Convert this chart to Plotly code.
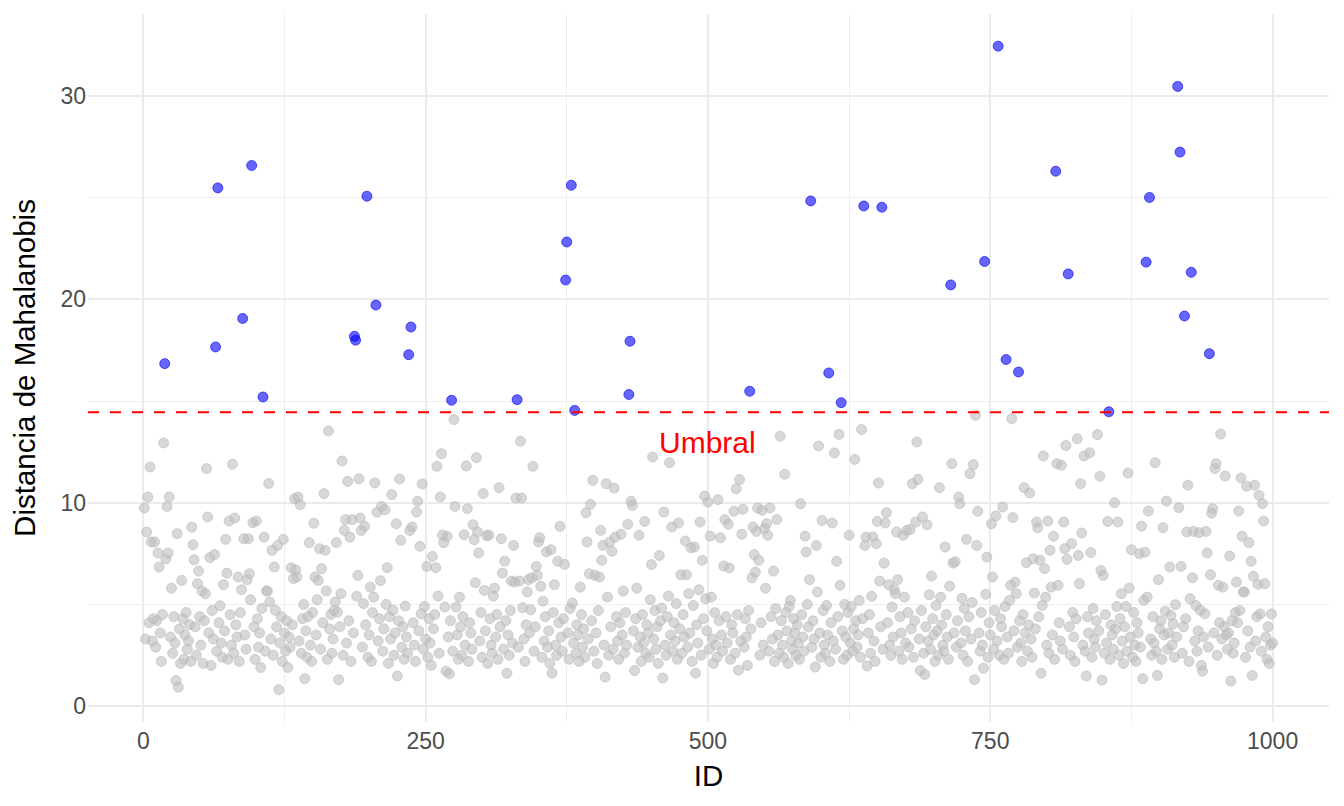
import plotly.graph_objects as go

# ---- data -------------------------------------------------------------
ids = list(range(1, 1001))

distances = [
    9.74, 3.3, 8.56, 10.28, 4.1, 11.76, 8.07, 3.2, 4.3, 8.07,
    2.9, 4.2, 7.53, 6.84, 3.6, 2.2, 4.5, 12.94, 16.84, 7.23,
    9.82, 7.53, 10.28, 3.4, 5.8, 2.6, 4.4, 3.1, 1.26, 8.48,
    0.93, 3.8, 2.1, 6.18, 4.3, 2.3, 3.5, 4.6, 2.8, 3.2,
    4.0, 2.2, 8.80, 7.94, 7.2, 3.9, 2.5, 6.02, 6.64, 4.4,
    3.0, 5.66, 2.1, 4.2, 5.53, 11.68, 9.30, 3.6, 7.3, 2.0,
    4.7, 3.3, 7.45, 17.66, 2.7, 25.48, 4.1, 4.94, 3.1, 2.4,
    5.97, 3.7, 8.2, 6.54, 2.3, 9.10, 4.5, 3.0, 11.89, 2.6,
    9.25, 4.0, 3.4, 6.35, 2.2, 4.6, 5.72, 19.06, 8.23, 3.5,
    2.8, 6.22, 8.23, 6.51, 5.23, 26.58, 9.02, 3.9, 2.3, 9.1,
    4.3, 2.9, 3.6, 1.9, 4.8, 15.20, 8.31, 2.7, 5.66, 5.66,
    10.95, 5.12, 3.3, 7.66, 2.5, 6.84, 4.71, 3.9, 7.9, 0.81,
    3.1, 4.4, 2.2, 8.2, 3.6, 2.7, 4.2, 1.9, 3.4, 2.9,
    6.8, 4.0, 6.27, 10.2, 6.7, 6.35, 10.28, 3.2, 9.9, 2.6,
    4.3, 5.0, 1.35, 3.7, 2.4, 4.41, 8.04, 3.0, 2.2, 4.6,
    8.99, 6.35, 3.5, 5.23, 6.18, 7.74, 2.8, 6.76, 4.1, 10.45,
    7.66, 5.66, 2.3, 13.53, 3.8, 4.51, 2.6, 3.3, 4.7, 5.12,
    8.04, 4.62, 1.3, 3.9, 5.53, 12.05, 2.5, 8.64, 9.17, 3.1,
    11.05, 4.2, 8.31, 2.2, 9.17, 3.6, 18.18, 17.99, 5.4, 6.43,
    11.18, 9.25, 8.64, 2.9, 5.04, 8.84, 4.0, 25.07, 2.4, 3.5,
    5.85, 2.2, 4.6, 5.36, 10.97, 19.72, 9.54, 3.2, 4.3, 6.17,
    9.82, 2.7, 3.8, 9.66, 5.0, 6.81, 2.1, 4.4, 3.3, 10.40,
    4.71, 2.5, 3.6, 8.97, 1.48, 4.2, 11.17, 8.15, 2.9, 3.9,
    2.3, 4.92, 3.4, 2.6, 17.28, 8.64, 18.64, 8.81, 4.1, 3.0,
    2.2, 9.54, 10.07, 3.7, 7.86, 4.54, 10.92, 2.8, 4.9, 3.3,
    6.87, 2.4, 4.3, 3.1, 2.0, 7.36, 3.8, 4.5, 6.81, 11.79,
    5.41, 2.6, 10.28, 12.41, 8.41, 8.04, 4.87, 1.72, 8.35, 3.4,
    1.59, 4.2, 15.04, 2.7, 14.09, 9.82, 4.87, 3.5, 2.3, 5.36,
    3.9, 2.5, 4.4, 8.43, 3.0, 11.81, 9.71, 2.2, 4.1, 3.6,
    2.8, 8.92, 8.18, 6.07, 12.22, 8.56, 7.53, 3.2, 4.6, 2.4,
    10.45, 5.69, 3.7, 8.38, 2.1, 8.41, 4.3, 3.0, 2.6, 5.41,
    5.8, 3.4, 4.5, 2.3, 10.74, 3.9, 8.23, 6.54, 2.8, 7.13,
    4.2, 1.62, 3.5, 2.5, 4.7, 6.15, 3.1, 7.9, 6.1, 10.23,
    15.07, 2.9, 6.15, 13.02, 10.23, 4.84, 3.3, 2.2, 4.0, 5.61,
    6.22, 3.6, 4.74, 6.31, 11.79, 2.7, 3.9, 6.87, 6.43, 8.07,
    8.28, 5.89, 2.4, 5.16, 3.2, 4.4, 7.58, 2.9, 3.7, 2.1,
    7.69, 1.62, 4.6, 5.97, 3.0, 2.5, 7.12, 4.1, 8.84, 3.4,
    2.7, 4.3, 6.97, 20.95, 22.82, 3.6, 2.3, 4.8, 25.61, 5.07,
    3.1, 14.54, 2.6, 4.0, 3.5, 2.2, 5.85, 4.5, 2.9, 3.8,
    2.4, 9.51, 8.07, 3.3, 6.51, 9.92, 4.2, 11.1, 2.7, 6.43,
    3.6, 2.1, 4.7, 6.35, 8.64, 7.17, 7.9, 3.0, 1.43, 10.94,
    5.36, 2.5, 8.07, 3.9, 7.61, 2.8, 10.72, 8.31, 4.4, 3.2,
    2.3, 4.1, 8.45, 3.5, 5.66, 2.6, 4.6, 3.0, 8.94, 15.32,
    17.94, 10.07, 9.87, 3.7, 1.75, 4.3, 5.8, 2.9, 8.4, 3.4,
    2.2, 4.5, 3.1, 9.08, 2.6, 4.0, 3.6, 2.4, 5.23, 6.96,
    12.25, 3.3, 4.7, 2.8, 3.9, 2.1, 7.41, 4.2, 4.82, 1.38,
    9.54, 3.0, 2.5, 4.4, 5.41, 11.97, 3.5, 8.81, 2.7, 4.1,
    3.2, 5.04, 2.3, 9.0, 3.8, 6.46, 2.6, 4.5, 3.4, 8.12,
    6.46, 2.9, 5.53, 3.6, 7.79, 2.2, 4.95, 7.82, 1.62, 4.0,
    3.1, 5.72, 9.05, 2.5, 7.17, 4.3, 10.33, 5.28, 3.7, 10.03,
    2.8, 8.36, 5.36, 3.3, 2.1, 4.6, 3.0, 2.4, 10.15, 4.2,
    8.28, 3.5, 2.7, 6.89, 9.17, 4.4, 3.1, 8.94, 6.79, 2.3,
    4.0, 3.6, 9.58, 2.6, 10.69, 4.5, 1.77, 11.14, 3.2, 8.45,
    9.68, 2.9, 4.3, 3.4, 2.0, 4.7, 15.48, 3.8, 6.31, 8.81,
    7.45, 6.59, 8.59, 9.74, 7.17, 2.5, 4.1, 9.63, 3.0, 8.73,
    5.8, 8.97, 8.4, 2.7, 9.74, 4.4, 3.3, 6.64, 2.2, 4.8,
    9.18, 3.5, 2.6, 13.27, 4.2, 3.0, 2.4, 11.4, 4.6, 3.7,
    2.1, 4.9, 5.2, 3.2, 2.8, 4.3, 3.6, 2.5, 4.0, 3.1,
    2.3, 9.95, 4.5, 3.4, 2.7, 8.36, 7.58, 5.0, 3.9, 6.22,
    24.84, 2.9, 4.2, 3.3, 1.92, 7.9, 5.61, 12.79, 3.6, 2.4,
    9.13, 4.7, 3.0, 2.6, 4.95, 3.5, 16.38, 2.2, 4.1, 9.0,
    3.2, 12.45, 2.8, 7.12, 4.4, 13.36, 5.94, 14.92, 3.7, 2.3,
    5.0, 3.4, 2.5, 4.6, 8.4, 3.1, 4.9, 2.7, 3.8, 12.13,
    4.2, 2.9, 3.5, 5.2, 2.4, 13.6, 4.3, 24.59, 7.9, 8.31,
    1.97, 3.6, 4.5, 2.6, 5.4, 8.31, 3.2, 2.2, 7.99, 9.08,
    10.97, 6.15, 3.9, 24.53, 2.8, 7.03, 9.0, 9.51, 4.1, 5.97,
    3.0, 2.5, 4.87, 3.4, 5.72, 5.53, 8.56, 6.22, 2.7, 4.4,
    3.6, 2.3, 8.4, 5.36, 3.1, 8.64, 4.6, 2.9, 8.68, 3.8,
    10.94, 2.4, 4.2, 9.05, 12.99, 11.15, 3.3, 1.75, 4.7, 9.3,
    2.6, 1.56, 3.9, 8.92, 3.2, 5.48, 2.8, 6.39, 4.3, 3.5,
    2.2, 4.95, 3.7, 2.5, 10.74, 5.36, 4.0, 3.0, 2.7, 7.82,
    4.5, 3.4, 2.3, 5.9, 20.71, 11.92, 7.03, 3.6, 7.1, 2.9,
    4.2, 10.28, 9.95, 3.1, 5.3, 2.5, 4.8, 3.7, 8.2, 2.2,
    4.4, 11.43, 3.3, 5.1, 11.87, 1.3, 14.3, 7.9, 9.58, 3.6,
    2.7, 4.6, 3.0, 1.86, 21.86, 5.5, 7.33, 2.4, 4.1, 3.5,
    8.97, 6.35, 2.8, 4.7, 9.35, 3.2, 32.45, 2.5, 4.3, 3.9,
    9.79, 2.3, 4.9, 17.04, 3.4, 2.6, 5.2, 5.94, 14.13, 9.27,
    3.7, 6.1, 5.53, 2.9, 16.43, 4.2, 3.1, 2.2, 4.5, 10.74,
    3.6, 7.05, 2.7, 4.0, 10.48, 3.3, 2.4, 7.25, 5.56, 3.8,
    9.05, 8.77, 4.4, 7.17, 1.62, 4.95, 12.3, 6.76, 5.36, 3.0,
    9.1, 2.6, 7.66, 5.85, 3.5, 8.35, 2.3, 26.30, 11.92, 5.94,
    4.1, 3.2, 11.84, 2.8, 9.05, 7.74, 12.81, 7.22, 21.25, 3.9,
    2.5, 7.99, 4.6, 3.4, 2.2, 4.3, 13.15, 7.41, 6.02, 10.94,
    8.51, 3.0, 12.3, 2.7, 1.48, 4.4, 3.6, 12.46, 7.55, 2.4,
    4.8, 3.3, 2.9, 4.2, 13.35, 3.7, 11.3, 6.67, 1.28, 6.43,
    2.6, 4.5, 3.1, 9.08, 14.47, 2.3, 4.0, 3.5, 2.8, 10.0,
    3.8, 4.9, 9.05, 2.5, 4.3, 5.53, 3.2, 2.1, 3.9, 4.9,
    2.7, 11.46, 5.8, 3.4, 7.69, 2.4, 4.6, 3.0, 2.2, 4.1,
    3.6, 7.49, 2.9, 8.85, 1.35, 5.2, 7.57, 21.83, 5.36, 9.59,
    25.01, 3.3, 2.5, 4.4, 3.1, 11.97, 2.7, 1.51, 6.22, 3.8,
    4.2, 2.3, 8.77, 3.5, 4.67, 10.08, 2.8, 3.6, 6.84, 4.46,
    3.0, 4.05, 2.4, 4.99, 3.4, 30.47, 9.76, 27.24, 6.87, 2.6,
    3.9, 19.18, 4.3, 8.56, 10.86, 2.2, 5.28, 21.33, 6.31, 8.59,
    3.2, 4.95, 2.7, 3.7, 8.53, 4.71, 2.0, 1.72, 3.4, 4.54,
    8.59, 7.53, 2.9, 17.33, 6.46, 9.49, 9.71, 3.6, 11.68, 11.92,
    2.5, 5.94, 4.1, 13.38, 3.3, 5.85, 3.9, 11.31, 3.5, 2.8,
    3.6, 7.38, 1.23, 4.2, 2.6, 3.1, 4.6, 6.1, 4.1, 9.59,
    4.7, 11.22, 8.35, 5.61, 5.61, 2.4, 10.81, 3.7, 8.04, 2.9,
    7.12, 1.51, 6.39, 10.86, 3.2, 4.4, 5.99, 10.36, 4.53, 2.7,
    9.95, 9.1, 6.02, 3.4, 2.3, 3.9, 2.1, 3.0, 4.53, 3.1,
]

umbral = 14.45
umbral_label = "Umbral"
umbral_label_pos = (500, 12.95)

x_ticks = [0, 250, 500, 750, 1000]
y_ticks = [0, 10, 20, 30]

# ---- split by threshold ----------------------------------------------
normal_x = [i for i, d in zip(ids, distances) if d <= umbral]
normal_y = [d for d in distances if d <= umbral]
out_x = [i for i, d in zip(ids, distances) if d > umbral]
out_y = [d for d in distances if d > umbral]

FONT = "Liberation Sans, Arial, Helvetica, sans-serif"

fig = go.Figure()
fig.add_trace(go.Scatter(
    x=normal_x, y=normal_y, mode="markers",
    marker=dict(size=10, color="rgba(190,190,190,0.6)",
                line=dict(width=1, color="rgba(185,185,185,0.6)")),
    hoverinfo="skip", showlegend=False))
fig.add_trace(go.Scatter(
    x=out_x, y=out_y, mode="markers",
    marker=dict(size=10, color="rgba(0,0,255,0.6)",
                line=dict(width=1, color="rgba(0,0,235,0.6)")),
    hoverinfo="skip", showlegend=False))

fig.add_shape(type="line", xref="paper", x0=0, x1=1, yref="y",
              y0=umbral, y1=umbral,
              line=dict(color="red", width=2, dash="11px,11px"))

fig.add_annotation(x=umbral_label_pos[0], y=umbral_label_pos[1],
                   text=umbral_label, showarrow=False,
                   font=dict(family=FONT, size=30, color="red"),
                   xanchor="center", yanchor="middle")

fig.update_layout(
    width=1336, height=798,
    margin=dict(l=80, r=15, t=6, b=84),
    paper_bgcolor="white", plot_bgcolor="white",
    font=dict(family=FONT),
    xaxis=dict(
        range=[-48.95, 1049.95], tickvals=x_ticks,
        showgrid=True, gridcolor="#EBEBEB", gridwidth=2,
        minor=dict(dtick=125, tick0=0, showgrid=True,
                   gridcolor="#EEEEEE", gridwidth=1),
        zeroline=False, showline=False, ticks="",
        tickfont=dict(size=23, color="#4D4D4D"),
        ticklabelstandoff=3,
        title=dict(text="ID", font=dict(size=29.5, color="black"), standoff=12),
    ),
    yaxis=dict(
        range=[-0.78, 34.03], tickvals=y_ticks,
        showgrid=True, gridcolor="#EBEBEB", gridwidth=2,
        minor=dict(dtick=5, tick0=0, showgrid=True,
                   gridcolor="#EEEEEE", gridwidth=1),
        zeroline=False, showline=False, ticks="",
        tickfont=dict(size=23, color="#4D4D4D"),
        ticklabelstandoff=1,
        title=dict(text="Distancia de Mahalanobis",
                   font=dict(size=29.5, color="black"), standoff=17),
    ),
)

fig.write_html("out.html")
